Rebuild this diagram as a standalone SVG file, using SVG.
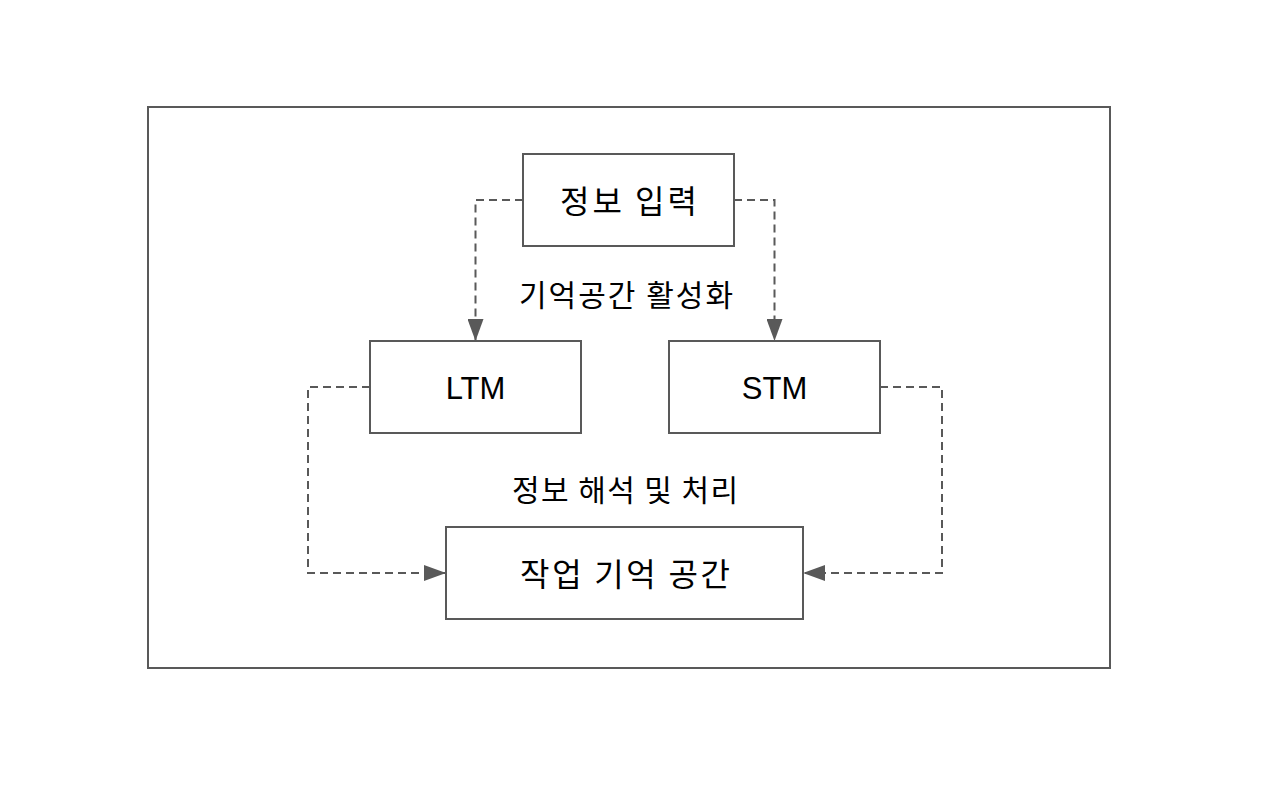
<svg xmlns="http://www.w3.org/2000/svg" width="1280" height="793" viewBox="0 0 1280 793">
<style>
.box{fill:#fff;stroke:#595959;stroke-width:2}
.frame{fill:none;stroke:#595959;stroke-width:2}
.conn{fill:none;stroke:#595959;stroke-width:2;stroke-dasharray:8 5}
.kr{font-family:"Noto Sans CJK KR","Noto Sans",sans-serif;fill:#000;dominant-baseline:central;text-anchor:middle}
.en{font-family:"Liberation Sans",Arial,sans-serif;font-size:31px;fill:#000;text-anchor:middle}
</style>
<defs>
<marker id="arr" viewBox="0 0 22 16" refX="22" refY="8" markerWidth="22" markerHeight="16" markerUnits="userSpaceOnUse" orient="auto">
<path d="M0,0 L22,8 L0,16 Z" fill="#595959"/>
</marker>
</defs>
<rect width="1280" height="793" fill="#fff"/>
<rect class="frame" x="148" y="107" width="962" height="561"/>
<g id="connectors">
<path class="conn" d="M523,200 H475.5 V341" marker-end="url(#arr)"/>
<path class="conn" d="M734,200 H774.5 V341" marker-end="url(#arr)"/>
<path class="conn" d="M370,387 H308 V573 H446" marker-end="url(#arr)"/>
<path class="conn" d="M880,387 H942 V573 H803" marker-end="url(#arr)"/>
</g>
<g id="input">
<rect class="box" x="523" y="154" width="211" height="92"/>
<text class="kr" x="628.5" y="199" font-size="32" textLength="137" lengthAdjust="spacing">정보 입력</text>
</g>
<g id="ltm">
<rect class="box" x="370" y="341" width="211" height="92"/>
<text class="en" x="475.5" y="398.5">LTM</text>
</g>
<g id="stm">
<rect class="box" x="669" y="341" width="211" height="92"/>
<text class="en" x="774.5" y="398.5">STM</text>
</g>
<g id="working">
<rect class="box" x="446" y="527" width="357" height="92"/>
<text class="kr" x="625" y="572" font-size="32" textLength="210" lengthAdjust="spacing">작업 기억 공간</text>
</g>
<g id="labels">
<text class="kr" x="626" y="293" font-size="30" textLength="214" lengthAdjust="spacing">기억공간 활성화</text>
<text class="kr" x="625" y="488" font-size="30" textLength="226" lengthAdjust="spacing">정보 해석 및 처리</text>
</g>
</svg>
